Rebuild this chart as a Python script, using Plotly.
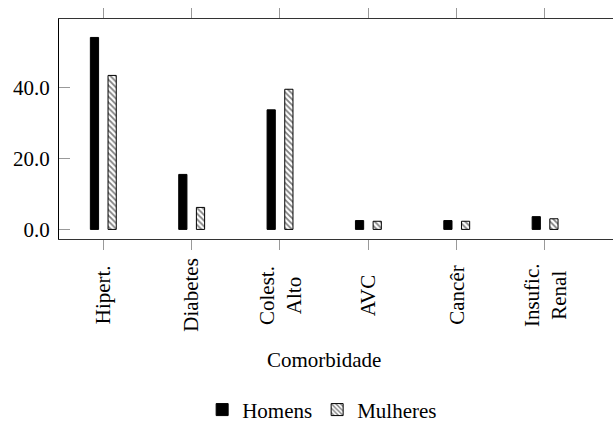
import plotly.graph_objects as go

categories = ["Hipert.", "Diabetes", "Colest.<br>Alto", "AVC", "Cancêr", "Insufic.<br>Renal"]
homens = [54.1, 15.5, 33.7, 2.5, 2.5, 3.6]
mulheres = [43.4, 6.2, 39.5, 2.3, 2.3, 3.0]
y_ticks = [0, 20, 40]
x_title = "Comorbidade"

FONT = "Liberation Serif"
FS = 21

fig = go.Figure()
fig.add_trace(go.Bar(
    x=categories, y=homens, name="Homens",
    width=0.093, offset=-0.145,
    marker=dict(color="black", line=dict(color="black", width=1)),
))
fig.add_trace(go.Bar(
    x=categories, y=mulheres, name="Mulheres",
    width=0.093, offset=0.055,
    marker=dict(color="white", line=dict(color="black", width=1),
                pattern=dict(shape="\\", fgcolor="black", bgcolor="white",
                             size=4, solidity=0.45)),
))

# rotated category labels, centred like the original
for c in categories:
    fig.add_annotation(x=c, y=-0.255, xref="x", yref="paper", text=c,
                       textangle=-90, showarrow=False, xanchor="center",
                       yanchor="middle", align="center",
                       font=dict(family=FONT, size=FS, color="black"))
fig.add_annotation(x=2.5, y=-0.55, xref="x", yref="paper", text=x_title,
                   showarrow=False, xanchor="center", yanchor="middle",
                   font=dict(family=FONT, size=FS, color="black"))

fig.update_layout(
    width=613, height=423,
    margin=dict(l=59, r=0, t=19, b=184, autoexpand=False),
    paper_bgcolor="white", plot_bgcolor="white",
    font=dict(family=FONT, size=FS, color="black"),
    barmode="group",
    showlegend=True,
    legend=dict(orientation="h", x=0.475, xanchor="center", y=-0.777,
                yanchor="middle",
                font=dict(family=FONT, size=FS, color="black"),
                itemwidth=30, traceorder="normal"),
    xaxis=dict(range=[-0.5, 5.77], showticklabels=False, automargin=False,
               ticks="outside", ticklen=10, tickcolor="#999",
               showline=True, linecolor="#333", linewidth=1, mirror="ticks",
               showgrid=False, zeroline=False),
    yaxis=dict(range=[-2.7, 59.3], tickvals=y_ticks, tickformat=".1f",
               automargin=False,
               ticks="inside", ticklen=11, tickcolor="#999",
               showline=True, linecolor="black", linewidth=1, mirror=False,
               showgrid=False, zeroline=False, ticklabelstandoff=4),
    yaxis2=dict(range=[-2.7, 59.3], tickvals=y_ticks, overlaying="y",
                side="right", ticks="inside", ticklen=11, tickcolor="#999",
                automargin=False,
                showticklabels=False, showline=False, showgrid=False,
                zeroline=False),
)

fig.write_html("out.html", config={"displayModeBar": False},
               post_script="document.body.style.margin='0';"
                           "document.body.style.padding='0';"
                           "document.body.style.overflow='hidden';")
